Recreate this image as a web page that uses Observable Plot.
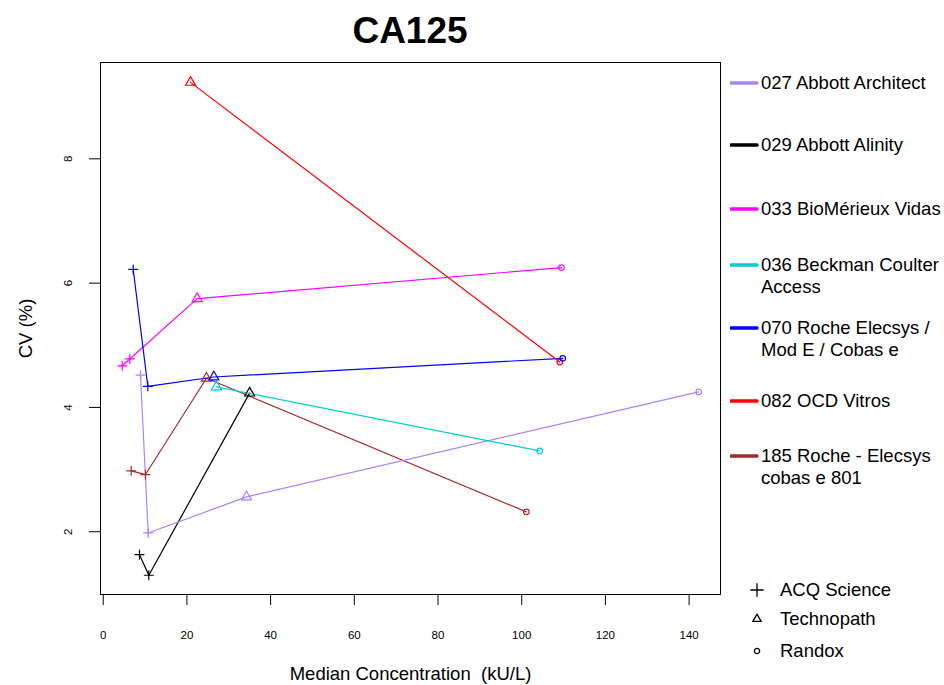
<!DOCTYPE html>
<html>
<head>
<meta charset="utf-8">
<script src="https://cdn.jsdelivr.net/npm/d3@7"></script>
<script src="https://cdn.jsdelivr.net/npm/@observablehq/plot@0.6"></script>
<style>
  html, body { margin: 0; padding: 0; background: #fff; }
  #wrap { position: relative; width: 944px; height: 685px; font-family: "Liberation Sans", Arial, Helvetica, sans-serif; color: #000; }
  #title { position: absolute; left: 310px; width: 200px; top: 9px; text-align: center; font-weight: bold; font-size: 37px; line-height: 44px; }
  .leg { position: absolute; font-size: 18.5px; line-height: 22px; white-space: nowrap; }
  .leg svg { position: absolute; }
</style>
</head>
<body>
<div id="wrap"><div id="title">CA125</div></div>
<script>
// ---- data ----
const analyzers = [
  "027 Abbott Architect",
  "029 Abbott Alinity",
  "033 BioMérieux Vidas",
  "036 Beckman Coulter Access",
  "070 Roche Elecsys / Mod E / Cobas e",
  "082 OCD Vitros",
  "185 Roche - Elecsys cobas e 801"
];
const legendLines = [
  ["027 Abbott Architect"],
  ["029 Abbott Alinity"],
  ["033 BioMérieux Vidas"],
  ["036 Beckman Coulter", "Access"],
  ["070 Roche Elecsys /", "Mod E / Cobas e"],
  ["082 OCD Vitros"],
  ["185 Roche - Elecsys", "cobas e 801"]
];
const sources = ["ACQ Science", "Technopath", "Randox"];

const ptAnalyzer = [0,0,0,0, 1,1,1, 2,2,2,2, 3,3, 4,4,4,4, 5,5, 6,6,6,6];
const ptSource   = [0,0,1,2, 0,0,1, 0,0,1,2, 1,2, 0,0,1,2, 1,2, 0,0,1,2];
const ptConc     = [8.91,10.75,34.24,142.3, 8.67,10.9,34.99, 4.54,6.36,22.46,109.5, 27.07,104.3, 7.17,10.66,26.43,109.8, 20.86,109.1, 6.69,10.11,24.68,101.1];
const ptCV       = [4.52,1.98,2.56,4.25, 1.63,1.30,4.23, 4.67,4.78,5.75,6.25, 4.33,3.30, 6.22,4.34,4.49,4.79, 9.23,4.73, 2.98,2.92,4.47,2.32];

const xTicks = [0, 20, 40, 60, 80, 100, 120, 140];
const yTicks = [2, 4, 6, 8];

// ---- styles ----
const palette = ["#AB82FF", "#000000", "#FF00FF", "#00CDCD", "#0000FF", "#FF0000", "#A52A2A"];
const legendTop = [83, 145, 209, 265, 328, 401, 456];
const symbolNames = ["plus", "triangle", "circle"];
const symbolR = [3.3, 3.7, 2.8];

const data = d3.sort(ptConc.map((c, i) => ({
  analyzer: analyzers[ptAnalyzer[i]],
  source: sources[ptSource[i]],
  conc: c,
  cv: ptCV[i]
})), d => d.conc);

const dotMarks = sources.map((s, k) => Plot.dot(data, {
  filter: d => d.source === s,
  x: "conc", y: "cv", stroke: "analyzer",
  symbol: symbolNames[k], r: symbolR[k], fill: "none", strokeWidth: 1.2
}));

const chart = Plot.plot({
  width: 944, height: 685,
  marginTop: 62, marginBottom: 91, marginLeft: 100, marginRight: 224,
  style: { fontFamily: '"Liberation Sans", Arial, sans-serif', background: "white", color: "black" },
  x: { domain: [-0.645, 147.5] },
  y: { domain: [0.99, 9.55] },
  color: { domain: analyzers, range: palette },
  marks: [
    Plot.line(data, { x: "conc", y: "cv", z: "analyzer", stroke: "analyzer", strokeWidth: 1.2 }),
    ...dotMarks,
    Plot.frame({ stroke: "black", strokeWidth: 1 }),
    Plot.axisX({ ticks: xTicks, tickSize: 11, tickPadding: 25, fontSize: 11.5, label: null, tickFormat: d => String(d) }),
    Plot.axisY({ ticks: yTicks, tickSize: 11, label: null, tickFormat: () => "" }),
    Plot.text(yTicks, { y: d => d, text: d => String(d), frameAnchor: "left", textAnchor: "middle", lineAnchor: "middle", dx: -32, rotate: -90, fontSize: 11.5 }),
    Plot.text(["CV (%)"], { frameAnchor: "left", textAnchor: "middle", lineAnchor: "middle", dx: -74, rotate: -90, fontSize: 18.5 }),
    Plot.text(["Median Concentration  (kU/L)"], { frameAnchor: "bottom", textAnchor: "middle", lineAnchor: "middle", dy: 80, fontSize: 18.5 })
  ]
});
const wrap = document.getElementById("wrap");
chart.style.position = "absolute";
chart.style.left = "0px";
chart.style.top = "0px";
wrap.insertBefore(chart, wrap.firstChild);

// ---- legend: analyzers (colour lines) ----
legendLines.forEach((lines, i) => {
  const div = document.createElement("div");
  div.className = "leg";
  div.style.left = "761px";
  div.style.top = (legendTop[i] - 11) + "px";
  div.innerHTML = lines.join("<br>");
  const sw = document.createElementNS("http://www.w3.org/2000/svg", "svg");
  sw.setAttribute("width", 30); sw.setAttribute("height", 10);
  sw.style.left = "-31px"; sw.style.top = "6px";
  const ln = document.createElementNS("http://www.w3.org/2000/svg", "line");
  ln.setAttribute("x1", 1); ln.setAttribute("x2", 27); ln.setAttribute("y1", 5); ln.setAttribute("y2", 5);
  ln.setAttribute("stroke", palette[i]); ln.setAttribute("stroke-width", 3.5);
  ln.setAttribute("stroke-linecap", "round");
  sw.appendChild(ln);
  div.appendChild(sw);
  wrap.appendChild(div);
});

// ---- legend: sources (symbols) ----
const sourceTop = [590, 619, 651];
const legSymbols = [d3.symbolPlus, d3.symbolTriangle, d3.symbolCircle];
const legSize = [60, 30, 22];
sources.forEach((s, k) => {
  const div = document.createElement("div");
  div.className = "leg";
  div.style.left = "780px";
  div.style.top = (sourceTop[k] - 11) + "px";
  div.textContent = s;
  const sw = document.createElementNS("http://www.w3.org/2000/svg", "svg");
  sw.setAttribute("width", 20); sw.setAttribute("height", 20);
  sw.style.left = "-33px"; sw.style.top = "1px";
  const p = document.createElementNS("http://www.w3.org/2000/svg", "path");
  p.setAttribute("d", d3.symbol(legSymbols[k], legSize[k])());
  p.setAttribute("transform", "translate(10,10)");
  p.setAttribute("fill", "none"); p.setAttribute("stroke", "black"); p.setAttribute("stroke-width", 1.3);
  sw.appendChild(p);
  div.appendChild(sw);
  wrap.appendChild(div);
});
</script>
</body>
</html>
